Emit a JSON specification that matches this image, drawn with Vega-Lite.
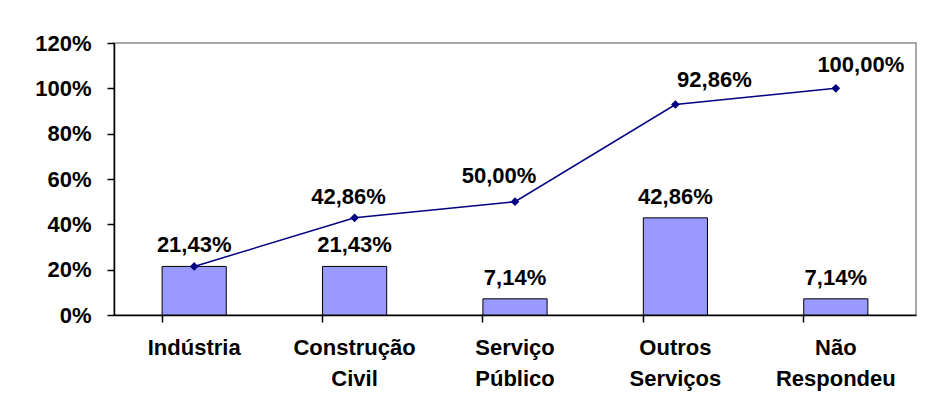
{
  "$schema": "https://vega.github.io/schema/vega-lite/v6.json",
  "autosize": {"type": "none"},
  "padding": {"left": 114, "top": 43, "right": 24, "bottom": 95},
  "width": 802,
  "height": 272,
  "background": "white",
  "config": {
    "locale": {"number": {"decimal": ",", "thousands": ".", "grouping": [3], "currency": ["R$", ""]}},
    "view": {"stroke": "#8c8c8c", "strokeWidth": 1.5},
    "font": "Liberation Sans"
  },
  "data": {
    "values": [
      {"setor": "Indústria", "pct": 0.2143, "acum": 0.2143},
      {"setor": "Construção Civil", "pct": 0.2143, "acum": 0.4286},
      {"setor": "Serviço Público", "pct": 0.0714, "acum": 0.5},
      {"setor": "Outros Serviços", "pct": 0.4286, "acum": 0.9286},
      {"setor": "Não Respondeu", "pct": 0.0714, "acum": 1.0}
    ]
  },
  "resolve": {"axis": {"x": "independent"}},
  "layer": [
    {
      "mark": {"type": "bar", "color": "#9999ff", "stroke": "#000000", "strokeWidth": 1},
      "encoding": {
        "x": {
          "field": "setor", "type": "nominal", "sort": null,
          "scale": {"paddingInner": 0.6, "paddingOuter": 0.3},
          "axis": {
            "orient": "bottom", "title": null, "labelAngle": 0,
            "ticks": false, "domain": true, "domainColor": "#000000", "domainWidth": 1.5,
            "labelExpr": "split(datum.label, ' ')",
            "labelFont": "Liberation Sans", "labelFontWeight": "bold", "labelFontSize": 22,
            "labelColor": "#000000", "labelPadding": 22, "labelLineHeight": 31,
            "labelBaseline": "top"
          }
        },
        "y": {
          "field": "pct", "type": "quantitative",
          "scale": {"domain": [0, 1.2], "nice": false},
          "axis": {
            "title": null, "values": [0, 0.2, 0.4, 0.6, 0.8, 1.0, 1.2], "format": ".0%",
            "grid": false, "domainColor": "#000000", "domainWidth": 1.5,
            "tickColor": "#000000", "tickSize": 7, "tickWidth": 1.5,
            "labelFont": "Liberation Sans", "labelFontWeight": "bold", "labelFontSize": 22,
            "labelColor": "#000000", "labelPadding": 16
          }
        }
      }
    },
    {
      "mark": {"type": "text", "font": "Liberation Sans", "fontWeight": "bold", "fontSize": 22, "color": "#000000", "baseline": "middle", "dy": -21},
      "encoding": {
        "x": {
          "field": "setor", "type": "nominal", "sort": null,
          "axis": {
            "orient": "bottom", "title": null, "labels": false, "domain": false,
            "ticks": true, "bandPosition": 0, "tickSize": 7, "tickColor": "#000000", "tickWidth": 1.5
          }
        },
        "y": {"field": "pct", "type": "quantitative"},
        "text": {"field": "pct", "type": "quantitative", "format": ".2%"}
      }
    },
    {
      "mark": {"type": "line", "color": "#000080", "strokeWidth": 1.5,
        "point": {"shape": "diamond", "size": 75, "filled": true, "color": "#000080"}},
      "encoding": {
        "x": {"field": "setor", "type": "nominal", "sort": null, "axis": null},
        "y": {"field": "acum", "type": "quantitative"}
      }
    },
    {
      "transform": [{"filter": "datum.acum != datum.pct"}],
      "mark": {"type": "text", "font": "Liberation Sans", "fontWeight": "bold", "fontSize": 22, "color": "#000000", "baseline": "middle",
        "dx": {"expr": "datum.setor == 'Construção Civil' ? -6 : datum.setor == 'Serviço Público' ? -16 : datum.setor == 'Outros Serviços' ? 39 : datum.setor == 'Não Respondeu' ? 25 : 0"},
        "dy": {"expr": "datum.setor == 'Construção Civil' ? -21 : datum.setor == 'Serviço Público' ? -26 : datum.setor == 'Outros Serviços' ? -25 : datum.setor == 'Não Respondeu' ? -23 : -23"}},
      "encoding": {
        "x": {"field": "setor", "type": "nominal", "sort": null, "axis": null},
        "y": {"field": "acum", "type": "quantitative"},
        "text": {"field": "acum", "type": "quantitative", "format": ".2%"}
      }
    }
  ]
}
